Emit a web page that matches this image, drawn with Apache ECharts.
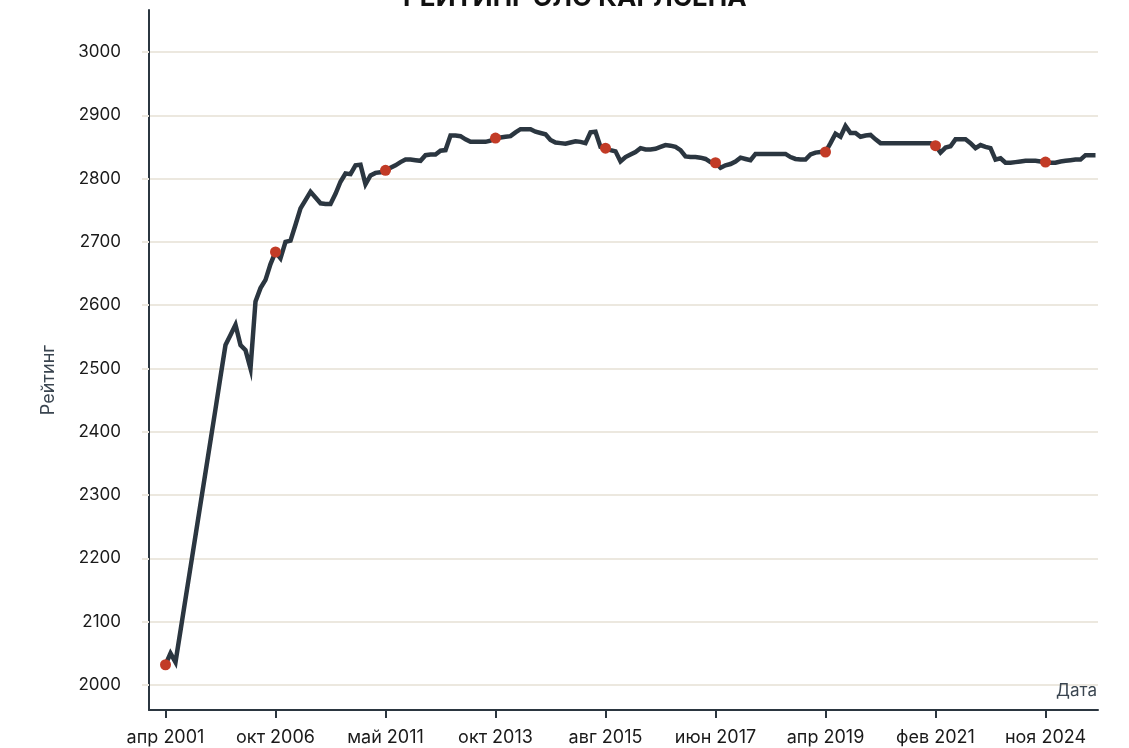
<!DOCTYPE html>
<html>
<head>
<meta charset="utf-8">
<script src="https://cdn.jsdelivr.net/npm/echarts@6/dist/echarts.min.js"></script>
<style>html,body{margin:0;padding:0;background:#fff}#c{width:1129px;height:748px}</style>
</head>
<body>
<div id="c"></div>
<script>
// Elo rating per rating list (one entry per list, in order)
const ratings = [
 2032,2050,2036,2086,2136,2186,2236,2286,2336,2386,
 2436,2487,2537,2553,2569,2537,2529,2500,2606,2627,
 2640,2665,2684,2674,2700,2702,2727,2753,2766,2779,
 2770,2761,2760,2760,2776,2795,2808,2807,2821,2822,
 2791,2805,2809,2810,2813,2817,2821,2826,2830,2830,
 2829,2828,2837,2838,2838,2844,2845,2868,2868,2867,
 2862,2858,2858,2858,2858,2860,2864,2865,2866,2867,
 2873,2878,2878,2878,2874,2872,2870,2861,2857,2856,
 2855,2857,2859,2858,2856,2873,2874,2850,2848,2845,
 2843,2827,2834,2838,2842,2848,2846,2846,2847,2850,
 2853,2852,2850,2845,2835,2834,2834,2833,2831,2826,
 2825,2817,2821,2823,2827,2833,2831,2829,2839,2839,
 2839,2839,2839,2839,2839,2834,2831,2830,2830,2838,
 2841,2842,2842,2856,2871,2866,2883,2872,2872,2866,
 2868,2869,2862,2856,2856,2856,2856,2856,2856,2856,
 2856,2856,2856,2856,2852,2841,2849,2851,2862,2862,
 2862,2856,2848,2853,2850,2848,2830,2832,2825,2825,
 2826,2827,2828,2828,2828,2827,2826,2825,2825,2827,
 2828,2829,2830,2830,2837,2837,2837
];
// positions (list index) of labelled dates and highlighted points
const tickIdx = [0,22,44,66,88,110,132,154,176];
const tickLabels = ['апр 2001','окт 2006','май 2011','окт 2013','авг 2015','июн 2017','апр 2019','фев 2021','ноя 2024'];
const markerIdx = [0,22,44,66,88,110,132,154,176];
const yTicks = [2000,2100,2200,2300,2400,2500,2600,2700,2800,2900,3000];

const FONT = 'Inter';
const DARK = '#2b3640';
const chart = echarts.init(document.getElementById('c'), null, {renderer:'canvas'});
chart.setOption({
  animation: false,
  backgroundColor: '#ffffff',
  title: {
    text: 'РЕЙТИНГ ЭЛО КАРЛСЕНА',
    left: 398, top: -20,
    textStyle: {fontFamily: FONT, fontWeight: 'bold', fontSize: 26, color: '#111'}
  },
  grid: {left: 149, right: 31, top: 10, bottom: 38, containLabel: false},
  xAxis: {
    type: 'value',
    min: -3.3, max: 186.5,
    name: 'Дата',
    nameLocation: 'end',
    nameGap: -1,
    nameTextStyle: {fontFamily: FONT, fontSize: 17, color: '#3a4550', align: 'right', verticalAlign: 'bottom', padding: [0,0,11,0]},
    axisLine: {show: true, onZero: false, lineStyle: {color: DARK, width: 2}},
    axisTick: {show: true, length: 8, customValues: tickIdx, lineStyle: {color: DARK, width: 2}},
    axisLabel: {
      customValues: tickIdx, margin: 19,
      fontFamily: FONT, fontSize: 18, color: '#1a1a1a',
      formatter: v => tickLabels[tickIdx.indexOf(v)] || ''
    },
    splitLine: {show: false}
  },
  yAxis: {
    type: 'value',
    min: 1960.5, max: 3066.3,
    name: 'Рейтинг',
    nameLocation: 'middle',
    nameGap: 91,
    nameTextStyle: {fontFamily: FONT, fontSize: 18, color: '#3a4550', padding: [0, 40, 0, 0]},
    axisLine: {show: true, onZero: false, lineStyle: {color: DARK, width: 2}},
    axisTick: {show: true, length: 7, customValues: yTicks, lineStyle: {color: '#ece8df', width: 2}},
    axisLabel: {customValues: yTicks, margin: 28, fontFamily: FONT, fontSize: 17, color: '#1a1a1a',
      formatter: v => String(v)},
    splitLine: {show: true, lineStyle: {color: '#ece8df', width: 2}}
  },
  series: [
    {
      type: 'line',
      data: ratings.map((v, i) => [i, v]),
      showSymbol: false,
      symbol: 'none',
      lineStyle: {color: DARK, width: 4.5, join: 'miter'},
      z: 2
    },
    {
      type: 'scatter',
      data: markerIdx.map(i => [i, ratings[i]]),
      symbolSize: 11,
      itemStyle: {color: '#c23b26', opacity: 1},
      z: 3
    }
  ]
});
</script>
</body>
</html>
